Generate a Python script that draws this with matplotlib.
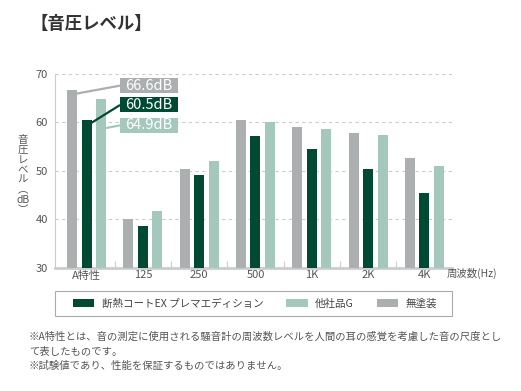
import matplotlib
matplotlib.use("Agg")
import matplotlib.pyplot as plt
from matplotlib.patches import Rectangle
from matplotlib.ticker import FixedLocator
import numpy as np

plt.rcParams['font.family'] = ['Noto Sans CJK JP', 'DejaVu Sans']

categories = ["A特性", "125", "250", "500", "1K", "2K", "4K"]
series_names = ["無塗装", "断熱コートEX プレマエディション", "他社品G"]
mutoso = [66.6, 40.0, 50.4, 60.5, 59.0, 57.8, 52.6]
premier = [60.5, 38.6, 49.1, 57.2, 54.6, 50.4, 45.4]
other_g = [64.9, 41.8, 52.0, 60.1, 58.6, 57.3, 50.9]
yticks = [30, 40, 50, 60, 70]
callouts = ["66.6dB", "60.5dB", "64.9dB"]

c_grey = "#acafaf"
c_dark = "#004a33"
c_light = "#a5c8bc"

W, H = 521, 391
fig = plt.figure(figsize=(W / 100, H / 100), dpi=100)
ax = fig.add_axes([55 / W, 1 - 267.7 / H, 397 / W, (267.7 - 74) / H])

x = np.arange(len(categories))
bw = 0.178
off = 0.258
b_grey = ax.bar(x - off, mutoso, bw, color=c_grey, zorder=3)
b_dark = ax.bar(x, premier, bw, color=c_dark, zorder=3)
b_light = ax.bar(x + off, other_g, bw, color=c_light, zorder=3)

ax.set_ylim(30, 70)
ax.set_xlim(-0.56, 6.49)
ax.set_yticks(yticks)
ax.set_xticks(x)
ax.set_xticklabels(categories)
ax.xaxis.set_minor_locator(FixedLocator(np.arange(0.5, len(categories) - 1, 1.0)))
ax.tick_params(axis='both', which='major', length=0, labelsize=8, colors="#555555")
ax.tick_params(axis='x', which='major', pad=2)
ax.tick_params(axis='y', which='major', pad=5)
ax.tick_params(axis='x', which='minor', direction='in', length=5, width=0.8, color="#cccccc")

for yv in yticks[1:]:
    ax.axhline(yv, color="#cccccc", lw=0.8, ls=(0, (3, 3)), zorder=1)

for s in ["top", "right"]:
    ax.spines[s].set_visible(False)
ax.spines["left"].set_color("#cccccc")
ax.spines["left"].set_linewidth(0.8)
ax.spines["bottom"].set_color("#cccccc")
ax.spines["bottom"].set_linewidth(2)

# callouts
box_x0, box_x1 = 0.595, 1.625
box_h = 3.1
box_ys = [67.6, 63.6, 59.4]
box_cols = [c_grey, c_dark, c_light]
starts = [(-0.2, 65.9), (0.03, 59.5), (0.24, 58.6)]
for lab, yc, col, (sx, sy) in zip(callouts, box_ys, box_cols, starts):
    ax.plot([sx, box_x0], [sy, yc], color=col, lw=1.6, zorder=4, solid_capstyle='butt')
    ax.add_patch(Rectangle((box_x0, yc - box_h / 2), box_x1 - box_x0, box_h,
                           facecolor=col, edgecolor='none', zorder=5))
    ax.text((box_x0 + box_x1) / 2, yc, lab, color="white", fontsize=10.5,
            ha='center', va='center', zorder=6)

# y label stacked vertically
fig.text(23 / W, 1 - 175 / H, "音\n圧\nレ\nベ\nル\n︵\ndB\n︶", ha='center', va='center',
         fontsize=7.5, color="#555555", linespacing=1.0)

fig.text(447 / W, 1 - 273 / H, "周波数(Hz)", ha='left', va='center', fontsize=7.5, color="#555555")

fig.text(30 / W, 1 - 24 / H, "【音圧レベル】", ha='left', va='center', fontsize=12.5,
         fontweight='bold', color="#333333")

# legend frame drawn manually, legend itself frameless
fig.patches.append(Rectangle((55 / W, 1 - 316 / H), 397 / W, 25 / H, transform=fig.transFigure,
                             facecolor='white', edgecolor="#aaaaaa", lw=0.8, zorder=0))
handles = [b_dark, b_light, b_grey]
labels = [series_names[1], series_names[2], series_names[0]]
leg = fig.legend(handles, labels, loc='center', ncol=3,
                 bbox_to_anchor=(255 / W, 1 - 303.5 / H), frameon=False,
                 fontsize=7.6, handlelength=2.0, handleheight=0.85, handletextpad=0.7,
                 columnspacing=2.2, borderpad=0.3, labelcolor="#444444")

notes = ["※A特性とは、音の測定に使用される騒音計の周波数レベルを人間の耳の感覚を考慮した音の尺度とし",
         "て表したものです。",
         "※試験値であり、性能を保証するものではありません。"]
for i, n in enumerate(notes):
    fig.text(29 / W, 1 - (337 + 14.5 * i) / H, n, ha='left', va='center', fontsize=7.45, color="#555555")

fig.savefig("out.png", dpi=100)
